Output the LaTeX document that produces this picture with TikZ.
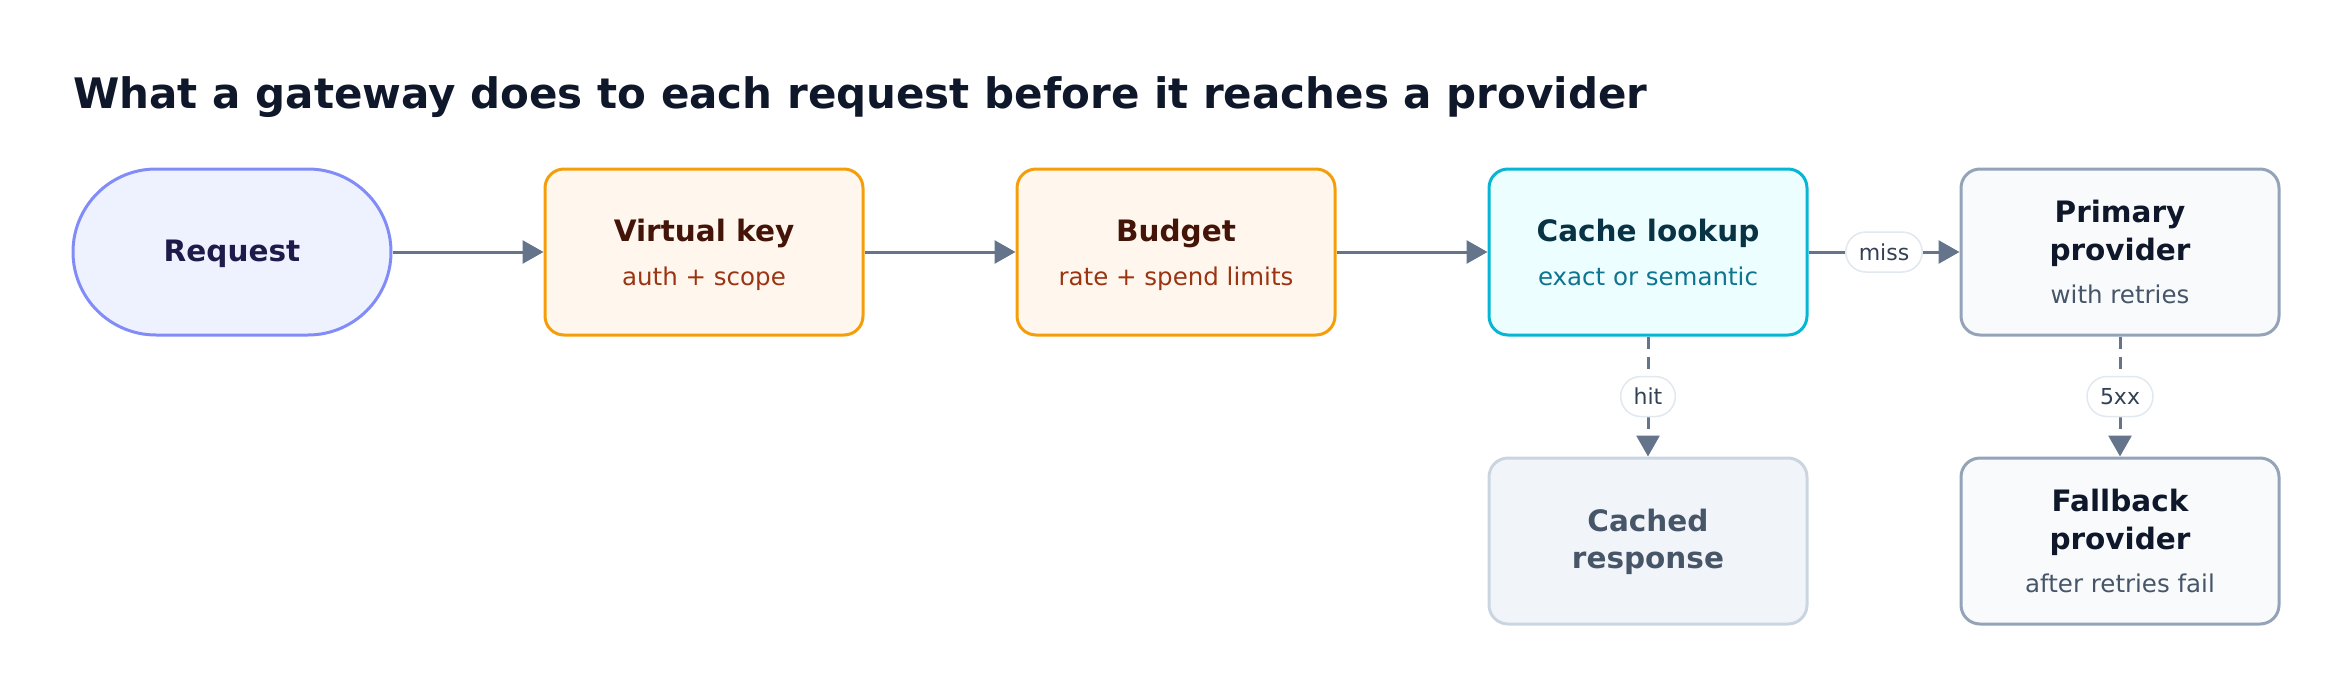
\documentclass[tikz,border=0pt]{standalone}
\usepackage{fontspec}
\setmainfont{DejaVu Sans}
\usetikzlibrary{positioning,arrows.meta}

\definecolor{ink}{HTML}{0F172A}
\definecolor{arrowgray}{HTML}{64748B}
\definecolor{pillline}{HTML}{E2E8F0}
\definecolor{pilltext}{HTML}{334155}
\definecolor{reqfill}{HTML}{EEF2FF}
\definecolor{reqline}{HTML}{818CF8}
\definecolor{reqtext}{HTML}{1E1B4B}
\definecolor{checkfill}{HTML}{FFF7ED}
\definecolor{checkline}{HTML}{F59E0B}
\definecolor{checktext}{HTML}{431407}
\definecolor{checknote}{HTML}{9A3412}
\definecolor{cachefill}{HTML}{ECFEFF}
\definecolor{cacheline}{HTML}{06B6D4}
\definecolor{cachetext}{HTML}{083344}
\definecolor{cachenote}{HTML}{0E7490}
\definecolor{provfill}{HTML}{F8FAFC}
\definecolor{provline}{HTML}{94A3B8}
\definecolor{provnote}{HTML}{475569}
\definecolor{hitfill}{HTML}{F1F5F9}
\definecolor{hitline}{HTML}{CBD5E1}

\newcommand{\stagenote}[2]{{\fontsize{12.25}{15}\selectfont\mdseries\color{#1}#2}}

\tikzset{
  stage/.style={draw, line width=1.5pt, rounded corners=9.5pt,
    minimum width=159pt, minimum height=83pt, align=center,
    text height=36.5pt, text depth=3.5pt,
    font=\fontsize{14.75}{18.7}\selectfont\bfseries},
  start/.style={stage, rounded corners=41.5pt, fill=reqfill, draw=reqline, text=reqtext,
    text height=13.1pt},
  check/.style={stage, fill=checkfill, draw=checkline, text=checktext},
  lookup/.style={stage, fill=cachefill, draw=cacheline, text=cachetext},
  provider/.style={stage, fill=provfill, draw=provline, text=ink, text height=54.9pt},
  served/.style={stage, fill=hitfill, draw=hitline, text=provnote, text height=31.1pt},
  flow/.style={draw=arrowgray, line width=1.5pt,
    -{Triangle[length=10.5pt, width=11.5pt]}},
  branch/.style={flow, dash pattern=on 6pt off 4pt},
  pill/.style={fill=white, draw=pillline, line width=0.75pt, rounded corners=10pt,
    minimum height=20pt, inner xsep=6.5pt, inner ysep=0pt, text=pilltext,
    font=\fontsize{11}{13}\selectfont, solid}
}

\begin{document}
\begin{tikzpicture}[x=1pt, y=1pt, node distance=60pt and 75.5pt]
 \useasboundingbox (0,0) rectangle (1176,-348);
 \node[anchor=base west, text=ink, font=\fontsize{21}{25}\selectfont\bfseries, inner sep=0pt]
   (title) at (36.5,-54.3) {What a gateway does to each request before it reaches a provider};
 %
 \node[start] (request) at (116,-126) {Request};
 \node[check, right=of request] (vkey) {Virtual key\\[3pt]\stagenote{checknote}{auth + scope}};
 \node[check, right=of vkey] (budget) {Budget\\[3pt]\stagenote{checknote}{rate + spend limits}};
 \node[lookup, right=of budget] (cache) {Cache lookup\\[3pt]\stagenote{cachenote}{exact or semantic}};
 \node[provider, right=of cache] (primary) {Primary\\provider\\[3pt]\stagenote{provnote}{with retries}};
 \node[served, below=of cache] (cached) {Cached\\response};
 \node[provider, below=of primary] (fallback) {Fallback\\provider\\[3pt]\stagenote{provnote}{after retries fail}};
 %
 \draw[flow] (request) -- (vkey);
 \draw[flow] (vkey) -- (budget);
 \draw[flow] (budget) -- (cache);
 \draw[flow] (cache) -- node[pill] {miss} (primary);
 \draw[branch] (cache) -- node[pill] {hit} (cached);
 \draw[branch] (primary) -- node[pill] {5xx} (fallback);
\end{tikzpicture}
\end{document}
